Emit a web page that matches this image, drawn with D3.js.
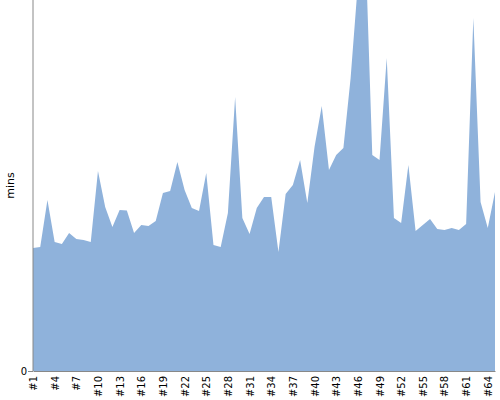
<!DOCTYPE html>
<html>
<head>
<meta charset="utf-8">
<script src="https://cdn.jsdelivr.net/npm/d3@7"></script>
<style>
  body { margin: 0; background: #fff; }
  svg { display: block; }
  text { font-family: "DejaVu Sans", sans-serif; }
</style>
</head>
<body>
<svg id="chart" width="500" height="400"></svg>
<script>
const categories = d3.range(1, 66).map(i => "#" + i);
const minutes = [
  12.3, 12.4, 17.1, 12.9, 12.7, 13.8, 13.2, 13.1, 12.9, 20.0,
  16.4, 14.4, 16.1, 16.05, 13.8, 14.6, 14.5, 15.0, 17.8, 18.0,
  20.9, 18.1, 16.3, 16.0, 19.8, 12.6, 12.4, 15.8, 27.4, 15.3,
  13.7, 16.3, 17.4, 17.4, 11.9, 17.7, 18.6, 21.1, 16.8, 22.4,
  26.5, 20.1, 21.6, 22.3, 29.3, 38.7, 43.6, 21.6, 21.1, 31.3,
  15.3, 14.8, 20.6, 14.0, 14.6, 15.2, 14.2, 14.1, 14.3, 14.1,
  14.7, 35.3, 16.9, 14.3, 17.9
];
const yTicks = [0];
const yLabel = "mins";

const svg = d3.select("#chart");
const mLeft = 33, mRight = 495, mTop = 0, mBottom = 371;

const x = d3.scaleLinear().domain([0, categories.length - 1]).range([mLeft, mRight]);
const y = d3.scaleLinear().domain([0, 37.1]).range([mBottom, mTop]);

const area = d3.area()
  .x((d, i) => x(i))
  .y0(y(0))
  .y1(d => y(d));

svg.append("path")
  .datum(minutes)
  .attr("fill", "#8fb2db")
  .attr("d", area);

// y axis
const yAxis = svg.append("g")
  .attr("transform", `translate(${mLeft},0)`)
  .call(d3.axisLeft(y).tickValues(yTicks).tickSize(5).tickPadding(1).tickSizeOuter(0).tickFormat(d3.format("d")));
yAxis.select(".domain").attr("stroke", "#888").attr("d", `M0,${mBottom}V0`);
yAxis.selectAll(".tick line").attr("stroke", "#888");
yAxis.selectAll(".tick text").attr("font-size", 10).attr("font-family", "DejaVu Sans, sans-serif").attr("fill", "#000");

// x axis
const labelIdx = d3.range(0, categories.length, 3);
const xAxis = svg.append("g")
  .attr("transform", `translate(0,${mBottom})`)
  .call(d3.axisBottom(x).tickValues(labelIdx).tickSize(0).tickFormat(i => categories[i]));
xAxis.select(".domain").attr("stroke", "#888");
xAxis.selectAll(".tick text")
  .attr("font-size", 10)
  .attr("font-family", "DejaVu Sans, sans-serif")
  .attr("fill", "#000")
  .attr("text-anchor", "end")
  .attr("transform", "rotate(-90)")
  .attr("x", -5)
  .attr("y", 0)
  .attr("dy", "0.35em");

svg.append("text")
  .attr("transform", `translate(14,${(mTop + mBottom) / 2}) rotate(-90)`)
  .attr("text-anchor", "middle")
  .attr("font-size", 11)
  .attr("font-family", "DejaVu Sans, sans-serif")
  .attr("fill", "#000")
  .text(yLabel);
</script>
</body>
</html>
